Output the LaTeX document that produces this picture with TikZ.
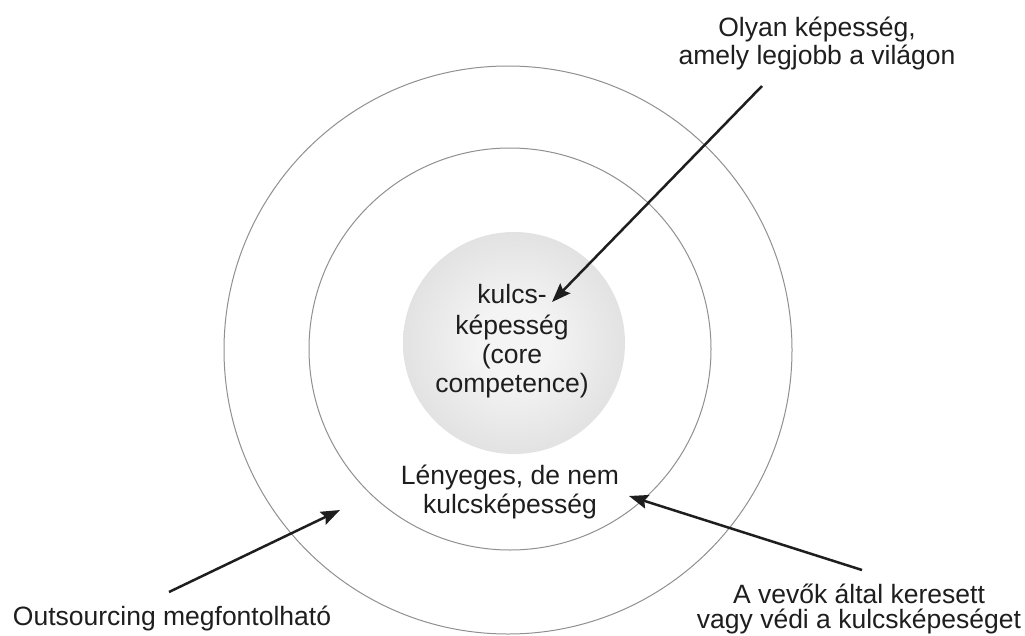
\documentclass[tikz,border=0pt]{standalone}
\usepackage{fontspec}
\setmainfont{Liberation Sans}
\usetikzlibrary{arrows.meta}
\definecolor{ink}{HTML}{1E1E1E}
\definecolor{ring}{HTML}{909090}
\definecolor{diskin}{HTML}{F4F4F4}
\definecolor{diskout}{HTML}{C8C8C8}
\pgfdeclareradialshading{coredisk}{\pgfpointorigin}{color(0bp)=(diskin); color(8bp)=(diskin); color(50bp)=(diskout)}

\begin{document}
\begin{tikzpicture}[x=1pt,y=-1pt,
  ringline/.style={draw=ring,line width=1pt},
  lbl/.style={font=\fontsize{26.5}{29}\selectfont,text=ink,inner sep=0pt,anchor=base},
  pointer/.style={draw=ink,line width=2.5pt,-{Stealth[length=19pt,width=14pt,inset=3pt]}}]
\useasboundingbox (0,0) rectangle (1025,635);
\fill[white] (0,0) rectangle (1025,635);

% rings and the shaded core
\draw[ringline] (508,350) circle[radius=284pt];
\draw[ringline] (510,349) circle[radius=201pt];
\shade[shading=coredisk] (514,343) circle[radius=111pt];

% labels
\node[lbl] (top1) at (817,36) {Olyan képesség,};
\node[lbl] (top2) at (817,64) {amely legjobb a világon};
\node[lbl] (core1) at (512,303) {kulcs-};
\node[lbl] (core2) at (512,334) {képesség};
\node[lbl] (core3) at (512,363) {(core};
\node[lbl] (core4) at (512,392) {competence)};
\node[lbl] (mid1) at (510,484) {Lényeges, de nem};
\node[lbl] (mid2) at (510,513) {kulcsképesség};
\node[lbl] (out1) at (172,625) {Outsourcing megfontolható};
\node[lbl] (cust1) at (859,603) {A vevők által keresett};
\node[lbl] (cust2) at (859,628) {vagy védi a kulcsképeséget};

% arrow ends
\coordinate (topstart) at (762,86);
\coordinate (toptip) at (552,302);
\coordinate (outstart) at (169,592);
\coordinate (outtip) at (340,510);
\coordinate (custstart) at (862,570);
\coordinate (custtip) at (629,496);

\draw[pointer] (topstart) -- (toptip);
\draw[pointer] (outstart) -- (outtip);
\draw[pointer] (custstart) -- (custtip);
\end{tikzpicture}
\end{document}
